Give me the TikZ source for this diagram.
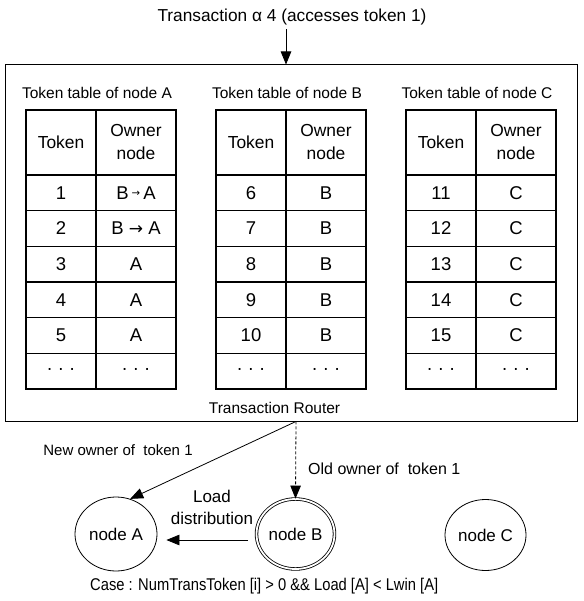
\documentclass[tikz,border=0pt]{standalone}
\usepackage{fontspec}
\setmainfont{Liberation Sans}
\newfontfamily\symfont{DejaVu Sans}
\usetikzlibrary{arrows.meta,shapes.geometric}
\newcommand\mydots{·~·~·}
\newcommand\smallarr{\raisebox{3pt}{\scalebox{0.55}{\symfont →}}}
\newcommand\bigarr{{\symfont\fontsize{17}{20}\selectfont →}}
\begin{document}
\begin{tikzpicture}[x=1pt,y=-1pt,
  lbl/.style={font=\fontsize{15.5}{18}\selectfont, inner sep=0pt},
  cell/.style={draw, line width=1.1pt, inner sep=0pt, minimum height=35.67pt, font=\fontsize{18.5}{20}\selectfont},
  hcell/.style={cell, minimum height=65pt, align=center, font=\fontsize{17.4}{23}\selectfont},
  cone/.style={minimum width=70pt},
  ctwo/.style={minimum width=80pt},
  arr/.style={line width=0.8pt, -{Triangle[length=13pt,width=10.5pt]}},
  nd/.style={ellipse, draw, line width=0.8pt, inner sep=0pt, font=\fontsize{17}{20}\selectfont},
]
\useasboundingbox (0,0) rectangle (583,601);
\fill[white] (0,0) rectangle (583,601);

% router box
\node[draw, line width=0.9pt, minimum width=572pt, minimum height=356.5pt, inner sep=0pt] (router) at (291,242.75) {};
\node[lbl] (rlabel) at (274.5,408) {Transaction Router};

% title and incoming arrow
\node[lbl, font=\fontsize{17.3}{20}\selectfont] (ttl) at (292,17) {Transaction α 4 (accesses token 1)};
\coordinate (tin) at (286,64.5);
\path (ttl.south -| tin) ++(0,4) coordinate (tstart);
\draw[arr] (tstart) -- (tin);

% tables
\foreach \T/\x in {A/26,B/216,C/406} {
  \node[lbl] (title\T) at (\x+71,93) {Token table of node \T};
  \node[hcell,cone] (\T-h1) at (\x+35,142.5) {Token};
  \node[hcell,ctwo] (\T-h2) at (\x+110,142.5) {Owner\\node};
}
\foreach \i/\tok/\own in {1/1/{B\,\smallarr\,A},2/2/{B \bigarr{} A},3/3/A,4/4/A,5/5/A,6/\mydots/\mydots} {
  \node[cell,cone] (A-\i-1) at (61,157.17+35.67*\i) {\tok};
  \node[cell,ctwo] (A-\i-2) at (136,157.17+35.67*\i) {\own};
}
\foreach \i/\tok/\own in {1/6/B,2/7/B,3/8/B,4/9/B,5/10/B,6/\mydots/\mydots} {
  \node[cell,cone] (B-\i-1) at (251,157.17+35.67*\i) {\tok};
  \node[cell,ctwo] (B-\i-2) at (326,157.17+35.67*\i) {\own};
}
\foreach \i/\tok/\own in {1/11/C,2/12/C,3/13/C,4/14/C,5/15/C,6/\mydots/\mydots} {
  \node[cell,cone] (C-\i-1) at (441,157.17+35.67*\i) {\tok};
  \node[cell,ctwo] (C-\i-2) at (516,157.17+35.67*\i) {\own};
}

% nodes
\node[nd, minimum width=82pt, minimum height=74pt] (nA) at (116,534) {node A};
\node[nd, double, double distance=1.8pt, minimum width=78pt, minimum height=70pt] (nB) at (295.5,534) {node B};
\node[nd, minimum width=81pt, minimum height=71pt] (nC) at (485.5,535) {node C};

\coordinate (rout) at ([xshift=5pt]router.south);
\draw[arr] (rout) -- (nA.68);
\draw[arr, dash pattern=on 3pt off 2pt] (rout) -- (nB.north);
\draw[arr] ([xshift=-8pt,yshift=-6pt]nB.west) -- ([xshift=9pt,yshift=-6pt]nA.east);

% labels
\node[lbl, font=\fontsize{15}{18}\selectfont] (newown) at (118,450) {New owner of~~token 1};
\node[lbl, anchor=west, font=\fontsize{16}{18}\selectfont] (oldown) at (308,469) {Old owner of~~token 1};
\node[lbl, align=center, font=\fontsize{17}{22}\selectfont] (load) at (212,507) {Load\\distribution};
\node[lbl, anchor=west] (case) at (90,586) {\resizebox{348pt}{\height}{\fontsize{17}{20}\selectfont Case : NumTransToken [i] > 0 \&\& Load [A] < Lwin [A]}};
\end{tikzpicture}
\end{document}
